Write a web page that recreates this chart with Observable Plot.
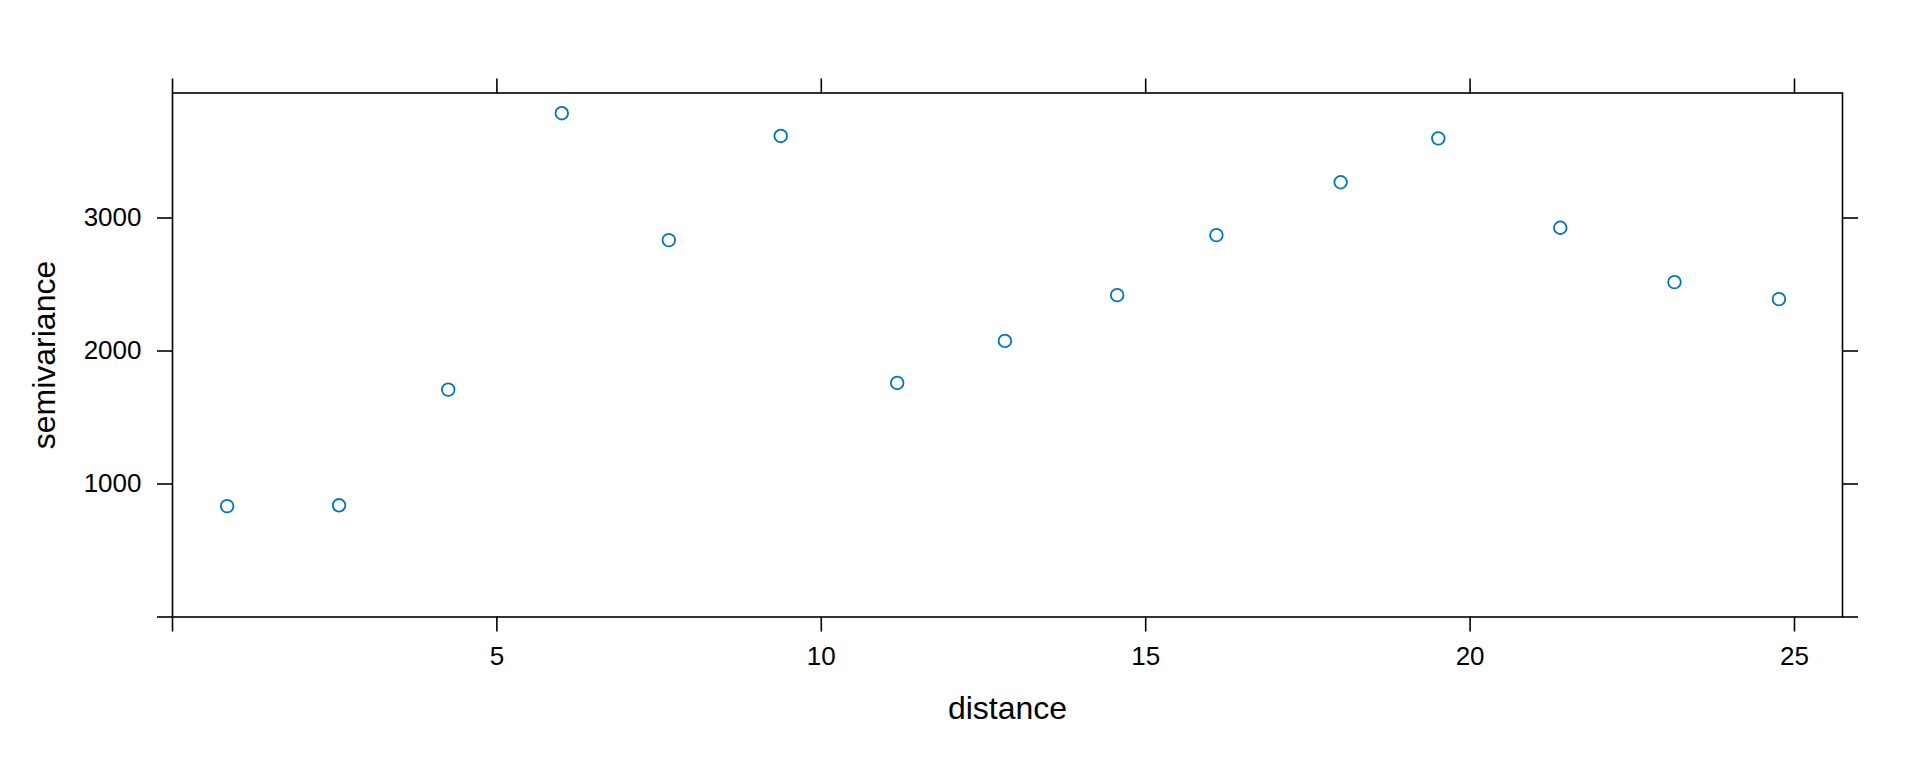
<!DOCTYPE html>
<html><head><meta charset="utf-8">
<script src="https://cdn.jsdelivr.net/npm/d3@7"></script>
<script src="https://cdn.jsdelivr.net/npm/@observablehq/plot@0.6"></script>
<style>
body{margin:0;background:#fff;}
#chart svg g[aria-label="x-axis label"], #chart svg g[aria-label="y-axis label"]{font-size:32px;}
</style>
</head><body><div id="chart"></div>
<script>
const distance = [0.842, 2.567, 4.25, 6.00, 7.65, 9.375, 11.17, 12.83, 14.56, 16.09, 18.005, 19.51, 21.39, 23.15, 24.76];
const semivariance = [834, 840, 1710, 3788, 2834, 3617, 1760, 2076, 2420, 2871, 3269, 3599, 2927, 2518, 2390];
const xTicks = [0, 5, 10, 15, 20, 25];
const yTicks = [0, 1000, 2000, 3000];
const xDomain = [0, 25.74];
const yDomain = [0, 3940];
const xLabel = "distance";
const yLabel = "semivariance";

const data = distance.map((d, i) => ({distance: d, gamma: semivariance[i]}));
const fmt = d => d === 0 ? "" : String(d);
const blank = () => "";

const chart = Plot.plot({
  width: 1920, height: 768,
  marginLeft: 172, marginRight: 78, marginTop: 92.5, marginBottom: 151.5,
  style: {fontFamily: "'Liberation Sans', Arial, Helvetica, sans-serif", background: "white", color: "black"},
  x: {domain: xDomain},
  y: {domain: yDomain},
  marks: [
    Plot.axisX({anchor: "bottom", ticks: xTicks, tickSize: 15, tickPadding: 15, tickFormat: fmt, fontSize: 26, strokeWidth: 1.6,
      label: xLabel, labelAnchor: "center", labelOffset: 102, labelArrow: "none"}),
    Plot.axisX({anchor: "top", ticks: xTicks, tickSize: 15, tickFormat: blank, strokeWidth: 1.6, label: null}),
    Plot.axisY({anchor: "left", ticks: yTicks, tickSize: 15, tickPadding: 16, tickFormat: fmt, fontSize: 26, strokeWidth: 1.6,
      label: yLabel, labelAnchor: "center", labelOffset: 140, labelArrow: "none"}),
    Plot.axisY({anchor: "right", ticks: yTicks, tickSize: 15, tickFormat: blank, strokeWidth: 1.6, label: null}),
    Plot.frame({stroke: "black", strokeWidth: 1.6}),
    Plot.dot(data, {x: "distance", y: "gamma", r: 6.3, stroke: "#0076ba", strokeWidth: 1.8, fill: "none"})
  ]
});
document.getElementById("chart").appendChild(chart);
</script>
</body></html>
